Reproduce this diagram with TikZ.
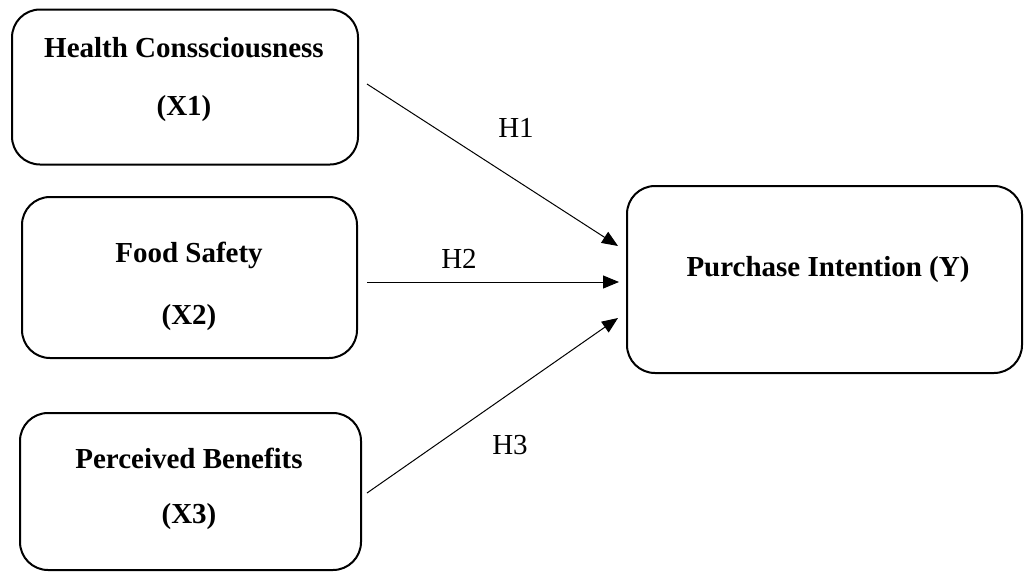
\documentclass[tikz,border=0pt]{standalone}
\usepackage{fontspec}
\setmainfont{Liberation Serif}
\usetikzlibrary{arrows.meta}
\begin{document}
\begin{tikzpicture}[x=1pt,y=-1pt,
  box/.style={draw,line width=2pt,rounded corners=28pt,inner sep=0pt},
  lbl/.style={font=\fontsize{29}{35}\selectfont\bfseries,inner sep=0pt},
  hyp/.style={font=\fontsize{29}{35}\selectfont,inner sep=0pt},
  conn/.style={line width=1pt,-{Triangle[length=16pt,width=13pt]}}]
\useasboundingbox (0,0) rectangle (1024,573);
\node[box,minimum width=346pt,minimum height=155pt] (b1) at (185,87) {};
\node[box,minimum width=335pt,minimum height=161pt] (b2) at (189.5,277.5) {};
\node[box,minimum width=341pt,minimum height=157pt] (b3) at (190.5,491.5) {};
\node[box,minimum width=395pt,minimum height=187pt] (by) at (824.5,279.5) {};
\node[lbl] (t1a) at (184,48) {Health Conssciousness};
\node[lbl] (t1b) at (184,109) {(X1)};
\node[lbl] (t2a) at (189,255) {Food Safety};
\node[lbl] (t2b) at (189,318) {(X2)};
\node[lbl] (t3a) at (189,458) {Perceived Benefits};
\node[lbl] (t3b) at (189,517) {(X3)};
\node[lbl] (ty) at (828,270) {Purchase Intention (Y)};
\coordinate (s1) at (367,84);
\coordinate (s2) at (367,282);
\coordinate (s3) at (367,493);
\coordinate (e1) at (618,246);
\coordinate (e2) at (619,282);
\coordinate (e3) at (618,318);
\draw[conn] (s1) -- (e1);
\draw[conn] (s2) -- (e2);
\draw[conn] (s3) -- (e3);
\node[hyp] (h1) at (516,128) {H1};
\node[hyp] (h2) at (459,259) {H2};
\node[hyp] (h3) at (510,445) {H3};
\end{tikzpicture}
\end{document}
